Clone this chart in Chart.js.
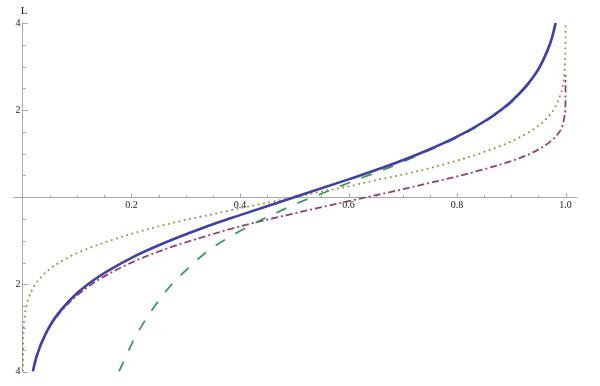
<!DOCTYPE html>
<html>
<head>
<meta charset="utf-8">
<script src="https://cdn.jsdelivr.net/npm/chart.js@4.4.1/dist/chart.umd.min.js"></script>
<style>
  html, body { margin: 0; padding: 0; background: #fff; }
  #wrap { width: 600px; height: 386px; }
</style>
</head>
<body>
<div id="wrap"><canvas id="chart" width="600" height="386"></canvas></div>
<script>
// tick labels (the negative ones are drawn without a minus sign, as in the picture)
const xTickValues = [0.2, 0.4, 0.6, 0.8, 1.0];
const xTickLabels = ['0.2', '0.4', '0.6', '0.8', '1.0'];
const yTickValues = [-4, -2, 2, 4];
const yTickLabels = ['4', '2', '2', '4'];
const yAxisTitle = 'L';

// solid blue
const blueX = [0.0183, 0.0215, 0.025, 0.03, 0.035, 0.05, 0.07, 0.1, 0.14, 0.2, 0.26, 0.33, 0.4, 0.5,
  0.6, 0.67, 0.74, 0.8, 0.86, 0.9, 0.93, 0.95, 0.965, 0.975, 0.9817];
const blueY = [-4.0, -3.82, -3.66, -3.48, -3.32, -2.94, -2.59, -2.20, -1.82, -1.39, -1.05, -0.71, -0.41, 0.0,
  0.41, 0.71, 1.05, 1.39, 1.82, 2.20, 2.59, 2.94, 3.32, 3.66, 4.0];

// dash-dot purple
const purpleX = [0.0181, 0.025, 0.035, 0.05, 0.07, 0.1, 0.14, 0.2, 0.26, 0.33, 0.4, 0.5, 0.6, 0.67,
  0.74, 0.8, 0.86, 0.9, 0.94, 0.97, 0.985, 0.995, 0.999, 0.9999, 1.0];
const purpleY = [-4.0, -3.68, -3.33, -2.97, -2.62, -2.25, -1.89, -1.50, -1.20, -0.92, -0.67, -0.37, -0.09, 0.10,
  0.30, 0.48, 0.68, 0.83, 1.03, 1.26, 1.44, 1.67, 1.93, 2.22, 2.80];

// dotted gold
const goldX = [0.00003, 0.0002, 0.001, 0.003, 0.006, 0.01, 0.02, 0.035, 0.05, 0.075, 0.1, 0.15, 0.2, 0.25,
  0.3, 0.35, 0.4, 0.45, 0.5, 0.55, 0.6, 0.65, 0.7, 0.75, 0.8, 0.85, 0.9, 0.925, 0.95, 0.965, 0.98,
  0.99, 0.994, 0.997, 0.999, 0.9998, 0.99997];
const goldY = [-4.0, -3.54, -3.09, -2.75, -2.51, -2.33, -2.05, -1.81, -1.64, -1.44, -1.28, -1.04, -0.84, -0.67,
  -0.52, -0.39, -0.25, -0.13, 0.0, 0.13, 0.25, 0.39, 0.52, 0.67, 0.84, 1.04, 1.28, 1.44, 1.64, 1.81, 2.05,
  2.33, 2.51, 2.75, 3.09, 3.54, 4.0];

// dashed green
const greenX = [0.177, 0.19, 0.205, 0.22, 0.24, 0.27, 0.305, 0.34, 0.38, 0.42, 0.465, 0.505, 0.55, 0.59,
  0.634, 0.68, 0.72, 0.76, 0.8, 0.85, 0.9, 0.93, 0.95, 0.965, 0.975, 0.9817];
const greenY = [-4.0, -3.65, -3.25, -2.93, -2.55, -2.06, -1.62, -1.24, -0.92, -0.64, -0.37, -0.14, 0.08, 0.28,
  0.49, 0.71, 0.92, 1.14, 1.37, 1.72, 2.18, 2.57, 2.93, 3.30, 3.65, 4.0];

const axisColor = '#aaaaaa';
const textColor = '#222222';
const labelFont = '10px "Liberation Serif"';

function toPoints(xs, ys) {
  return xs.map((x, i) => ({ x: x, y: ys[i] }));
}

function curve(xs, ys, color, width, dash) {
  return {
    data: toPoints(xs, ys),
    borderColor: color,
    borderWidth: width,
    borderDash: dash,
    borderCapStyle: 'butt',
    showLine: true,
    pointRadius: 0,
    cubicInterpolationMode: 'monotone',
    fill: false
  };
}

// inner tick marks, y labels left of the axis and the "L" title
const axisMarks = {
  id: 'axisMarks',
  beforeDatasetsDraw(chart) {
    const { ctx, scales: { x, y } } = chart;
    const x0 = x.getPixelForValue(0);
    const y0 = y.getPixelForValue(0);
    ctx.save();
    ctx.strokeStyle = axisColor;
    ctx.lineWidth = 1;
    ctx.beginPath();
    for (let i = 1; i <= 20; i++) {
      const px = Math.round(x.getPixelForValue(i * 0.05)) + 0.5;
      const len = i % 4 === 0 ? 4 : 2.5;
      ctx.moveTo(px, y0);
      ctx.lineTo(px, y0 - len);
    }
    for (let i = -8; i <= 8; i++) {
      if (i === 0) continue;
      const py = Math.round(y.getPixelForValue(i * 0.5)) + 0.5;
      const len = i % 4 === 0 ? 5 : 3;
      ctx.moveTo(x0, py);
      ctx.lineTo(x0 + len, py);
    }
    ctx.stroke();

    ctx.fillStyle = textColor;
    ctx.font = labelFont;
    ctx.textAlign = 'right';
    ctx.textBaseline = 'middle';
    yTickValues.forEach((v, i) => {
      ctx.fillText(yTickLabels[i], x0 - 2.5, y.getPixelForValue(v));
    });

    ctx.font = '11px "Liberation Serif"';
    ctx.textAlign = 'center';
    ctx.fillText(yAxisTitle, x0 + 1.2, 11.5);
    ctx.restore();
  }
};

Chart.defaults.font.family = '"Liberation Serif", "Times New Roman", serif';
Chart.defaults.font.size = 10;
Chart.defaults.color = textColor;

new Chart(document.getElementById('chart'), {
  type: 'scatter',
  data: {
    datasets: [
      curve(blueX, blueY, '#4040a6', 2.6, []),
      curve(greenX, greenY, '#3d9959', 1.8, [11, 12]),
      curve(purpleX, purpleY, '#993d71', 1.8, [7, 3, 2, 3]),
      curve(goldX, goldY, '#998f3d', 1.8, [1.8, 3.6])
    ]
  },
  options: {
    responsive: false,
    animation: false,
    devicePixelRatio: 1,
    layout: { padding: { left: 13.2, right: 23.6, top: 23, bottom: 14.5 } },
    plugins: {
      legend: { display: false },
      tooltip: { enabled: false }
    },
    scales: {
      x: {
        type: 'linear',
        min: -0.018,
        max: 1.02,
        position: { y: 0 },
        grid: { display: false, drawTicks: false },
        border: { display: true, color: axisColor, width: 1 },
        afterBuildTicks: scale => { scale.ticks = xTickValues.map(v => ({ value: v })); },
        ticks: {
          autoSkip: false,
          maxRotation: 0,
          padding: 2.5,
          callback: value => xTickLabels[xTickValues.indexOf(value)]
        }
      },
      y: {
        type: 'linear',
        min: -4,
        max: 4,
        position: { x: 0 },
        grid: { display: false, drawTicks: false },
        border: { display: true, color: axisColor, width: 1 },
        afterBuildTicks: scale => { scale.ticks = yTickValues.map(v => ({ value: v })); },
        ticks: { display: false }
      }
    }
  },
  plugins: [axisMarks]
});
</script>
</body>
</html>
